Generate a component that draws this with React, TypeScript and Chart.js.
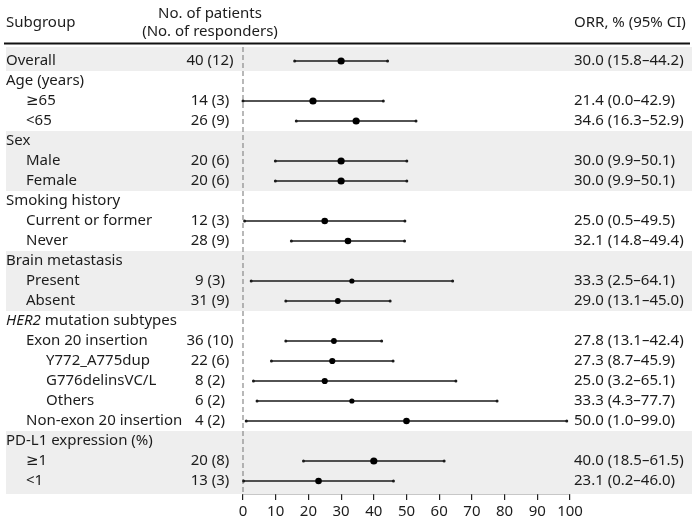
import React, { useEffect, useRef } from "react";
import { Chart, registerables } from "chart.js";

Chart.register(...registerables);

const subgroups = [
  "Overall", "Age (years)", "≥65", "<65", "Sex", "Male", "Female",
  "Smoking history", "Current or former", "Never", "Brain metastasis",
  "Present", "Absent", "HER2 mutation subtypes", "Exon 20 insertion",
  "Y772_A775dup", "G776delinsVC/L", "Others", "Non-exon 20 insertion",
  "PD-L1 expression (%)", "≥1", "<1",
];
const indentLevels = [0, 0, 1, 1, 0, 1, 1, 0, 1, 1, 0, 1, 1, 0, 1, 2, 2, 2, 1, 0, 1, 1];
const italicPrefix = ["", "", "", "", "", "", "", "", "", "", "", "", "", "HER2", "", "", "", "", "", "", "", ""];
const patients = [
  "40 (12)", "", "14 (3)", "26 (9)", "", "20 (6)", "20 (6)", "", "12 (3)", "28 (9)", "",
  "9 (3)", "31 (9)", "", "36 (10)", "22 (6)", "8 (2)", "6 (2)", "4 (2)", "", "20 (8)", "13 (3)",
];
const orr: (number | null)[] = [30.0, null, 21.4, 34.6, null, 30.0, 30.0, null, 25.0, 32.1, null, 33.3, 29.0, null, 27.8, 27.3, 25.0, 33.3, 50.0, null, 40.0, 23.1];
const ciLow: (number | null)[] = [15.8, null, 0.0, 16.3, null, 9.9, 9.9, null, 0.5, 14.8, null, 2.5, 13.1, null, 13.1, 8.7, 3.2, 4.3, 1.0, null, 18.5, 0.2];
const ciHigh: (number | null)[] = [44.2, null, 42.9, 52.9, null, 50.1, 50.1, null, 49.5, 49.4, null, 64.1, 45.0, null, 42.4, 45.9, 65.1, 77.7, 99.0, null, 61.5, 46.0];
const dotRadius: (number | null)[] = [3.6, null, 3.6, 3.6, null, 3.6, 3.6, null, 3.3, 3.3, null, 2.6, 2.9, null, 2.9, 3.1, 3.1, 2.6, 3.3, null, 3.6, 3.3];
const shadeStart = [0, 4, 10, 19];
const shadeEnd = [0, 6, 12, 21];
const xTicks = [0, 10, 20, 30, 40, 50, 60, 70, 80, 90, 100];

const FONT = "'Noto Sans', 'DejaVu Sans', sans-serif";
const TEXT = "#1c1c1c";

const tablePlugin = {
  id: "forestTable",
  beforeDatasetsDraw(chart: any) {
    const { ctx, chartArea, scales } = chart;
    const y = scales.y;
    ctx.save();
    ctx.fillStyle = "#eeeeee";
    for (let g = 0; g < shadeStart.length; g++) {
      const top = shadeStart[g] === 0 ? chartArea.top : y.getPixelForValue(shadeStart[g] - 0.5);
      const bottom = shadeEnd[g] === subgroups.length - 1 ? chartArea.bottom : y.getPixelForValue(shadeEnd[g] + 0.5);
      ctx.fillRect(6, top, 686, bottom - top);
    }
    ctx.restore();
  },
  afterDatasetsDraw(chart: any) {
    const { ctx, scales } = chart;
    const y = scales.y;
    ctx.save();
    ctx.fillStyle = TEXT;
    ctx.textBaseline = "middle";
    ctx.font = `15px ${FONT}`;
    // headers
    ctx.textAlign = "left";
    ctx.fillText("Subgroup", 6, 23);
    ctx.fillText("ORR, % (95% CI)", 574, 23);
    ctx.textAlign = "center";
    ctx.fillText("No. of patients", 210, 14);
    ctx.fillText("(No. of responders)", 210, 32);
    // header rule
    ctx.strokeStyle = "#111";
    ctx.lineWidth = 2;
    ctx.beginPath();
    ctx.moveTo(4, 43.5);
    ctx.lineTo(690, 43.5);
    ctx.stroke();
    for (let i = 0; i < subgroups.length; i++) {
      const py = y.getPixelForValue(i);
      const px = 6 + indentLevels[i] * 20;
      ctx.textAlign = "left";
      let label = subgroups[i];
      let x0 = px;
      if (italicPrefix[i]) {
        ctx.font = `italic 15px ${FONT}`;
        ctx.fillText(italicPrefix[i], x0, py);
        x0 += ctx.measureText(italicPrefix[i]).width;
        label = label.slice(italicPrefix[i].length);
        ctx.font = `15px ${FONT}`;
      }
      ctx.fillText(label, x0, py);
      if (patients[i]) {
        ctx.textAlign = "center";
        ctx.fillText(patients[i], 210, py);
      }
      const v = orr[i];
      const lo = ciLow[i];
      const hi = ciHigh[i];
      if (v !== null && lo !== null && hi !== null) {
        ctx.textAlign = "left";
        ctx.fillText(`${v.toFixed(1)} (${lo.toFixed(1)}–${hi.toFixed(1)})`, 574, py);
      }
    }
    ctx.restore();
  },
};

export default function App() {
  const ref = useRef<HTMLCanvasElement | null>(null);
  useEffect(() => {
    document.body.style.margin = "0";
    if (!ref.current) return;
    const datasets: any[] = [];
    // reference dashed line at 0
    datasets.push({
      type: "line",
      data: [{ x: 0, y: -0.7 }, { x: 0, y: subgroups.length - 0.35 }],
      borderColor: "#8a8a8a",
      borderWidth: 1.2,
      borderDash: [5, 3],
      pointRadius: 0,
      clip: false,
      order: 3,
    });
    for (let i = 0; i < subgroups.length; i++) {
      const lo = ciLow[i];
      const hi = ciHigh[i];
      if (lo === null || hi === null) continue;
      datasets.push({
        type: "line",
        data: [{ x: lo, y: i }, { x: hi, y: i }],
        borderColor: "#1a1a1a",
        backgroundColor: "#1a1a1a",
        borderWidth: 1.4,
        pointRadius: 1.5,
        pointBorderWidth: 0,
        pointBackgroundColor: "#1a1a1a",
        clip: false,
        order: 2,
      });
    }
    const pts: any[] = [];
    const radii: number[] = [];
    for (let i = 0; i < subgroups.length; i++) {
      const v = orr[i];
      if (v === null) continue;
      pts.push({ x: v, y: i });
      radii.push(dotRadius[i] as number);
    }
    datasets.push({
      type: "scatter",
      data: pts,
      pointRadius: radii,
      pointBackgroundColor: "#000",
      pointBorderWidth: 0,
      clip: false,
      order: 1,
    });

    const chart = new Chart(ref.current, {
      type: "scatter",
      data: { datasets },
      options: {
        animation: false,
        responsive: true,
        maintainAspectRatio: false,
        layout: { padding: { top: 47, left: 243, right: 130, bottom: 0 } },
        plugins: { legend: { display: false }, tooltip: { enabled: false } },
        scales: {
          x: {
            type: "linear",
            min: 0,
            max: 100,
            afterBuildTicks: (scale: any) => {
              scale.ticks = xTicks.map((v) => ({ value: v }));
            },
            afterFit: (scale: any) => {
              scale.height = 31;
            },
            grid: {
              display: true,
              drawOnChartArea: false,
              drawTicks: true,
              tickLength: 6,
              color: "#222",
              lineWidth: 1.2,
            },
            border: { display: true, color: "#222", width: 1.2 },
            ticks: {
              color: TEXT,
              padding: 3,
              font: { family: FONT, size: 15 },
              maxRotation: 0,
              autoSkip: false,
            },
          },
          y: {
            type: "linear",
            display: false,
            reverse: true,
            min: -0.7,
            max: subgroups.length - 0.35,
          },
        },
      },
      plugins: [tablePlugin],
    } as any);
    return () => chart.destroy();
  }, []);
  return (
    <div style={{ position: "absolute", left: 0, top: 0, width: 700, height: 525, background: "#fff" }}>
      <canvas ref={ref} />
    </div>
  );
}
